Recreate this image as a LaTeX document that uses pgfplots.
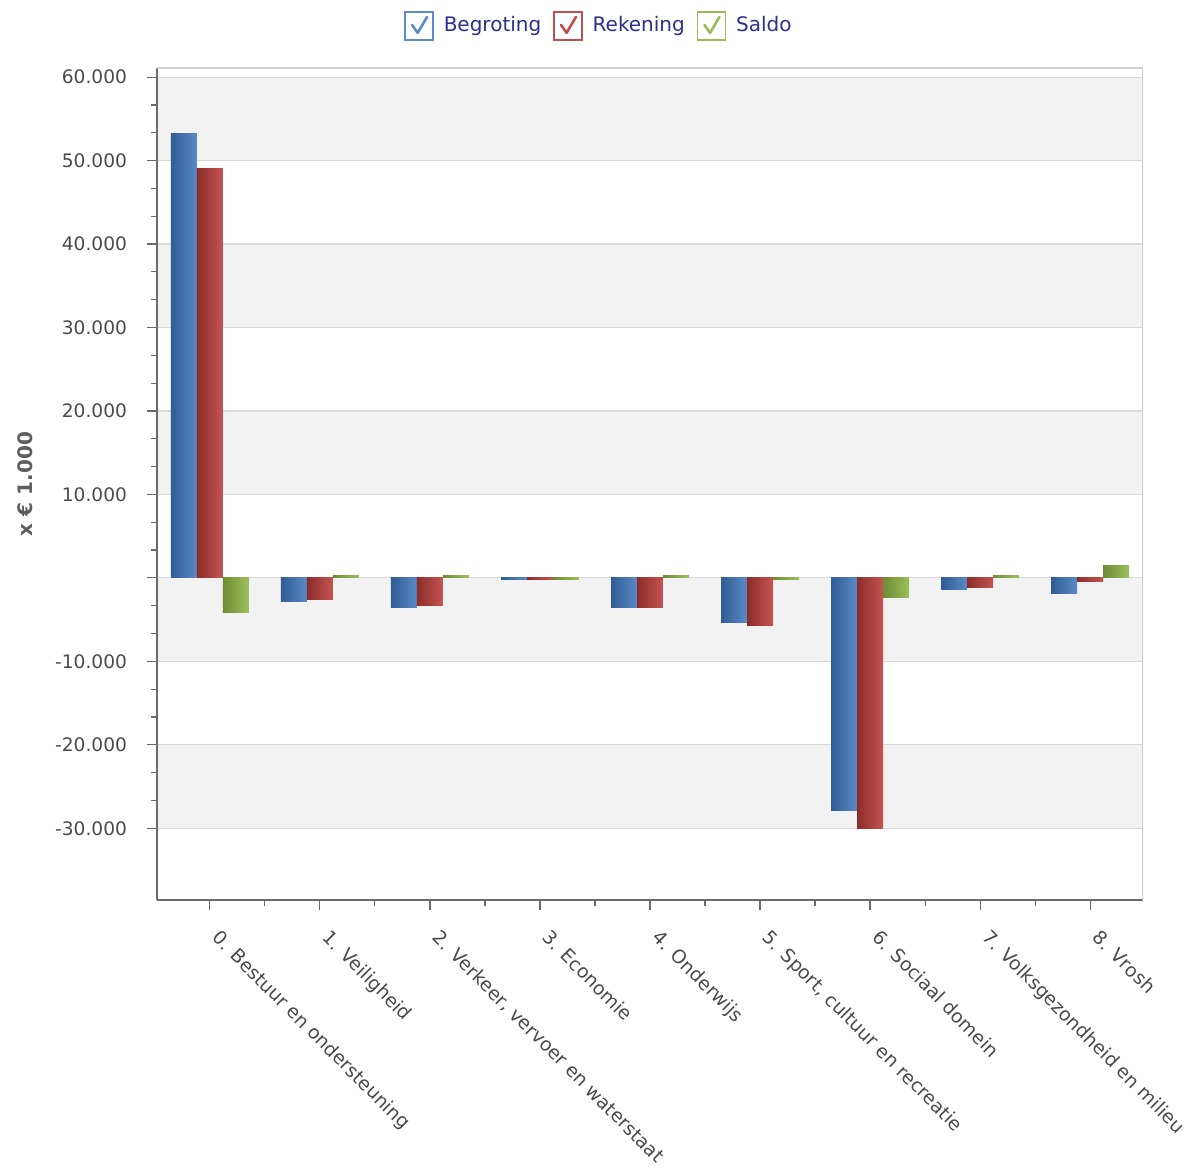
\documentclass[border=0pt]{standalone}
\usepackage{pgfplots}
\pgfplotsset{compat=1.18}
\usepackage{pgfplotstable}
\usepackage{fontspec}
\setmainfont{DejaVu Sans}
\definecolor{bdark}{HTML}{2F5C93}
\definecolor{blight}{HTML}{5A8AC6}
\definecolor{rdark}{HTML}{8C2D2A}
\definecolor{rlight}{HTML}{C45451}
\definecolor{gdark}{HTML}{6E8C33}
\definecolor{glight}{HTML}{9DBF5B}
\definecolor{cbblue}{HTML}{5B8BC8}
\definecolor{cbred}{HTML}{C0504D}
\definecolor{cbgreen}{HTML}{9BBB59}
\definecolor{stripe}{HTML}{F2F2F2}
\definecolor{gridgray}{HTML}{D9D9D9}
\definecolor{axisgray}{HTML}{6A6A6A}
\definecolor{boxgray}{HTML}{D0D0D0}
\definecolor{labelgray}{HTML}{4A4A4A}
\definecolor{ylabgray}{HTML}{5E5E5E}
\definecolor{legtext}{HTML}{2E2E8C}
\pgfplotstableread{
x b r s
0 53200 49000 -4200
1 -2850 -2600 300
2 -3550 -3300 300
3 -250 -250 -200
4 -3550 -3550 300
5 -5400 -5700 -250
6 -27900 -30050 -2350
7 -1400 -1200 300
8 -1850 -450 1500
}\data
\begin{document}
\begin{tikzpicture}
\begin{axis}[
  set layers,
  scale only axis, width=493pt, height=416pt,
  xmin=-0.48, xmax=8.48, ymin=-38600, ymax=61100,
  axis lines=left,
  axis line style={draw=axisgray, line width=0.8pt, -},
  tick align=outside, major tick length=5pt, minor tick length=3pt,
  tick style={draw=axisgray, line width=0.6pt},
  xtick={0,...,8},
  xticklabels={0. Bestuur en ondersteuning,1. Veiligheid,{2. Verkeer, vervoer en waterstaat},3. Economie,4. Onderwijs,{5. Sport, cultuur en recreatie},6. Sociaal domein,7. Volksgezondheid en milieu,8. Vrosh},
  minor x tick num=1,
  scaled y ticks=false,
  ytick={-30000,-20000,-10000,0,10000,20000,30000,40000,50000,60000},
  yticklabels={-30.000,-20.000,-10.000,,10.000,20.000,30.000,40.000,50.000,60.000},
  minor y tick num=2,
  ymajorgrids, major grid style={draw=gridgray, line width=0.6pt},
  ticklabel style={font=\fontsize{9.3}{11}\selectfont, text=labelgray},
  yticklabel style={xshift=-6.5pt},
  xticklabel style={rotate=-45, anchor=north west, font=\fontsize{9.4}{11}\selectfont, xshift=7pt, yshift=1pt},
  ylabel={x € 1.000}, ylabel shift=4.5pt,
  ylabel style={font=\bfseries\fontsize{10}{12}\selectfont, text=ylabgray},
  ybar, bar width=0.236,
  legend style={at={(0.5,1)}, anchor=south, xshift=-25pt, yshift=11.5pt, draw=none, fill=none,
    legend columns=3, font=\fontsize{10}{12}\selectfont, text=legtext,
    /tikz/every odd column/.append style={column sep=3pt},
    /tikz/every even column/.append style={column sep=4pt}},
]
\begin{pgfonlayer}{axis background}
\fill[stripe] (axis cs:-0.48,50000) rectangle (axis cs:8.48,60000);
\fill[stripe] (axis cs:-0.48,30000) rectangle (axis cs:8.48,40000);
\fill[stripe] (axis cs:-0.48,10000) rectangle (axis cs:8.48,20000);
\fill[stripe] (axis cs:-0.48,-10000) rectangle (axis cs:8.48,0);
\fill[stripe] (axis cs:-0.48,-30000) rectangle (axis cs:8.48,-20000);
\end{pgfonlayer}
\pgfplotsinvokeforeach{0,...,8}{
\addplot[draw=none, left color=bdark, right color=blight, bar shift=-0.236, forget plot, restrict x to domain=#1:#1] table[x=x,y=b]{\data};
\addplot[draw=none, left color=rdark, right color=rlight, bar shift=0, forget plot, restrict x to domain=#1:#1] table[x=x,y=r]{\data};
\addplot[draw=none, left color=gdark, right color=glight, bar shift=0.236, forget plot, restrict x to domain=#1:#1] table[x=x,y=s]{\data};
}
\draw[boxgray, line width=0.8pt] (rel axis cs:0,1) -- (rel axis cs:1,1) -- (rel axis cs:1,0);
\addlegendimage{legend image code/.code={
  \draw[draw=cbblue, fill=white, line width=0.7pt] (0pt,-7pt) rectangle (14pt,7pt);
  \draw[cbblue, line width=1.3pt, line cap=round, line join=round] (3.5pt,0.5pt) -- (6.3pt,-3.5pt) -- (11pt,4.5pt);}}
\addlegendentry{Begroting}
\addlegendimage{legend image code/.code={
  \draw[draw=cbred, fill=white, line width=0.7pt] (0pt,-7pt) rectangle (14pt,7pt);
  \draw[cbred, line width=1.3pt, line cap=round, line join=round] (3.5pt,0.5pt) -- (6.3pt,-3.5pt) -- (11pt,4.5pt);}}
\addlegendentry{Rekening}
\addlegendimage{legend image code/.code={
  \draw[draw=cbgreen, fill=white, line width=0.7pt] (0pt,-7pt) rectangle (14pt,7pt);
  \draw[cbgreen, line width=1.3pt, line cap=round, line join=round] (3.5pt,0.5pt) -- (6.3pt,-3.5pt) -- (11pt,4.5pt);}}
\addlegendentry{Saldo}
\end{axis}
\pgfresetboundingbox
\path (current axis.south west) ++(-78.5pt,-134.5pt) rectangle ++(597pt,584.5pt);
\end{tikzpicture}
\end{document}
